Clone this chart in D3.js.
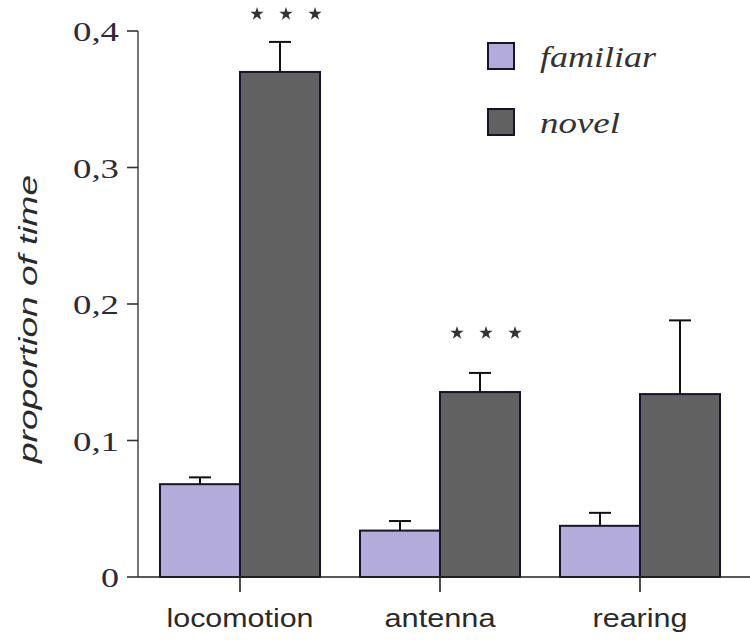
<!DOCTYPE html>
<html>
<head>
<meta charset="utf-8">
<script src="https://cdnjs.cloudflare.com/ajax/libs/d3/7.8.5/d3.min.js"></script>
<style>
  body { margin: 0; background: #ffffff; }
  svg { display: block; }
  .serif { font-family: 'Liberation Serif', 'Times New Roman', serif; }
  .sans { font-family: 'Liberation Sans', Arial, sans-serif; }
</style>
</head>
<body>
<div id="chart"></div>
<script>
// data
var categories = ["locomotion", "antenna", "rearing"];
var seriesNames = ["familiar", "novel"];
var familiarValues = [0.068, 0.034, 0.0375];
var familiarErrors = [0.005, 0.007, 0.0095];
var novelValues = [0.370, 0.1355, 0.134];
var novelErrors = [0.022, 0.014, 0.054];
var yTicks = [0, 0.1, 0.2, 0.3, 0.4];
var yTickLabels = ["0", "0,1", "0,2", "0,3", "0,4"];
var significant = [true, true, false];

var width = 750, height = 640;
var colors = { familiar: "#b3acdb", novel: "#616161" };

var svg = d3.select("#chart")
  .append("svg")
  .attr("width", width)
  .attr("height", height);

var x = d3.scaleBand()
  .domain(categories)
  .range([140, 740])
  .paddingInner(0.2)
  .paddingOuter(0.1);

var xSub = d3.scaleBand()
  .domain(seriesNames)
  .range([0, x.bandwidth()]);

var y = d3.scaleLinear()
  .domain([0, 0.4])
  .range([577, 31]);

var rows = categories.map(function(c, i) {
  return [
    { cat: c, key: "familiar", value: familiarValues[i], err: familiarErrors[i] },
    { cat: c, key: "novel", value: novelValues[i], err: novelErrors[i] }
  ];
});
var flat = [].concat.apply([], rows);

// bars
svg.append("g")
  .selectAll("rect")
  .data(flat)
  .enter()
  .append("rect")
    .attr("x", function(d) { return x(d.cat) + xSub(d.key); })
    .attr("y", function(d) { return y(d.value); })
    .attr("width", xSub.bandwidth())
    .attr("height", function(d) { return y(0) - y(d.value); })
    .attr("fill", function(d) { return colors[d.key]; })
    .attr("stroke", "#15142a")
    .attr("stroke-width", 2);

// error bars
var errG = svg.append("g")
  .attr("stroke", "#111")
  .attr("stroke-width", 2);

errG.selectAll("line.stem")
  .data(flat)
  .enter()
  .append("line")
    .attr("class", "stem")
    .attr("x1", function(d) { return x(d.cat) + xSub(d.key) + xSub.bandwidth() / 2; })
    .attr("x2", function(d) { return x(d.cat) + xSub(d.key) + xSub.bandwidth() / 2; })
    .attr("y1", function(d) { return y(d.value); })
    .attr("y2", function(d) { return y(d.value + d.err); });

errG.selectAll("line.cap")
  .data(flat)
  .enter()
  .append("line")
    .attr("class", "cap")
    .attr("x1", function(d) { return x(d.cat) + xSub(d.key) + xSub.bandwidth() / 2 - 11; })
    .attr("x2", function(d) { return x(d.cat) + xSub(d.key) + xSub.bandwidth() / 2 + 11; })
    .attr("y1", function(d) { return y(d.value + d.err); })
    .attr("y2", function(d) { return y(d.value + d.err); });

// y axis
var yAxis = svg.append("g");
yAxis.append("line")
  .attr("x1", 138).attr("x2", 138)
  .attr("y1", y(0.4)).attr("y2", y(0))
  .attr("stroke", "#555").attr("stroke-width", 1.6);

yAxis.selectAll("line.tick")
  .data(yTicks)
  .enter()
  .append("line")
    .attr("class", "tick")
    .attr("x1", 127).attr("x2", 138)
    .attr("y1", function(d) { return y(d); })
    .attr("y2", function(d) { return y(d); })
    .attr("stroke", "#333").attr("stroke-width", 1.6);

yAxis.selectAll("text")
  .data(yTicks)
  .enter()
  .append("text")
    .attr("class", "serif")
    .attr("x", 119)
    .attr("y", function(d) { return y(d) + 10; })
    .attr("text-anchor", "end")
    .attr("font-size", 28)
    .attr("fill", "#2e2a38")
    .attr("textLength", function(d, i) { return i == 0 ? 18 : 46; })
    .attr("lengthAdjust", "spacingAndGlyphs")
    .text(function(d, i) { return yTickLabels[i]; });

svg.append("text")
  .attr("class", "sans")
  .attr("transform", "translate(37," + 319 + ") rotate(-90)")
  .attr("text-anchor", "middle")
  .attr("font-style", "italic")
  .attr("font-size", 26)
  .attr("fill", "#2a2a2a")
  .attr("textLength", 288)
  .attr("lengthAdjust", "spacingAndGlyphs")
  .text("proportion of time");

// x axis
var xAxis = svg.append("g");
xAxis.append("line")
  .attr("x1", 138).attr("x2", 750)
  .attr("y1", y(0)).attr("y2", y(0))
  .attr("stroke", "#222").attr("stroke-width", 1.6);

xAxis.selectAll("line.tick")
  .data(categories)
  .enter()
  .append("line")
    .attr("class", "tick")
    .attr("x1", function(d) { return x(d) + x.bandwidth() / 2; })
    .attr("x2", function(d) { return x(d) + x.bandwidth() / 2; })
    .attr("y1", y(0)).attr("y2", y(0) + 15)
    .attr("stroke", "#222").attr("stroke-width", 1.6);

var labelLen = { locomotion: 147, antenna: 111, rearing: 95 };
xAxis.selectAll("text")
  .data(categories)
  .enter()
  .append("text")
    .attr("class", "sans")
    .attr("x", function(d) { return x(d) + x.bandwidth() / 2; })
    .attr("y", 627)
    .attr("text-anchor", "middle")
    .attr("font-size", 25)
    .attr("fill", "#2a2a2a")
    .attr("textLength", function(d) { return labelLen[d]; })
    .attr("lengthAdjust", "spacingAndGlyphs")
    .text(function(d) { return d; });

// significance stars above the novel bars
var star = d3.symbol().type(d3.symbolStar).size(55);
categories.forEach(function(c, i) {
  if (!significant[i]) return;
  var cx = x(c) + xSub("novel") + xSub.bandwidth() / 2 + 6;
  var sy = i == 0 ? 14 : 333;
  [-29, 0, 29].forEach(function(dx) {
    svg.append("path")
      .attr("d", star)
      .attr("transform", "translate(" + (cx + dx) + "," + sy + ")")
      .attr("fill", "#333");
  });
});

// legend
var legend = svg.append("g");
seriesNames.forEach(function(s, i) {
  legend.append("rect")
    .attr("x", 488).attr("y", 43 + i * 66)
    .attr("width", 26).attr("height", 26)
    .attr("fill", colors[s])
    .attr("stroke", "#15142a").attr("stroke-width", 2);
  legend.append("text")
    .attr("class", "serif")
    .attr("x", 540).attr("y", 67 + i * 66)
    .attr("font-style", "italic")
    .attr("font-size", 30)
    .attr("fill", "#333")
    .attr("textLength", i == 0 ? 116 : 80)
    .attr("lengthAdjust", "spacingAndGlyphs")
    .text(s);
});
</script>
</body>
</html>
